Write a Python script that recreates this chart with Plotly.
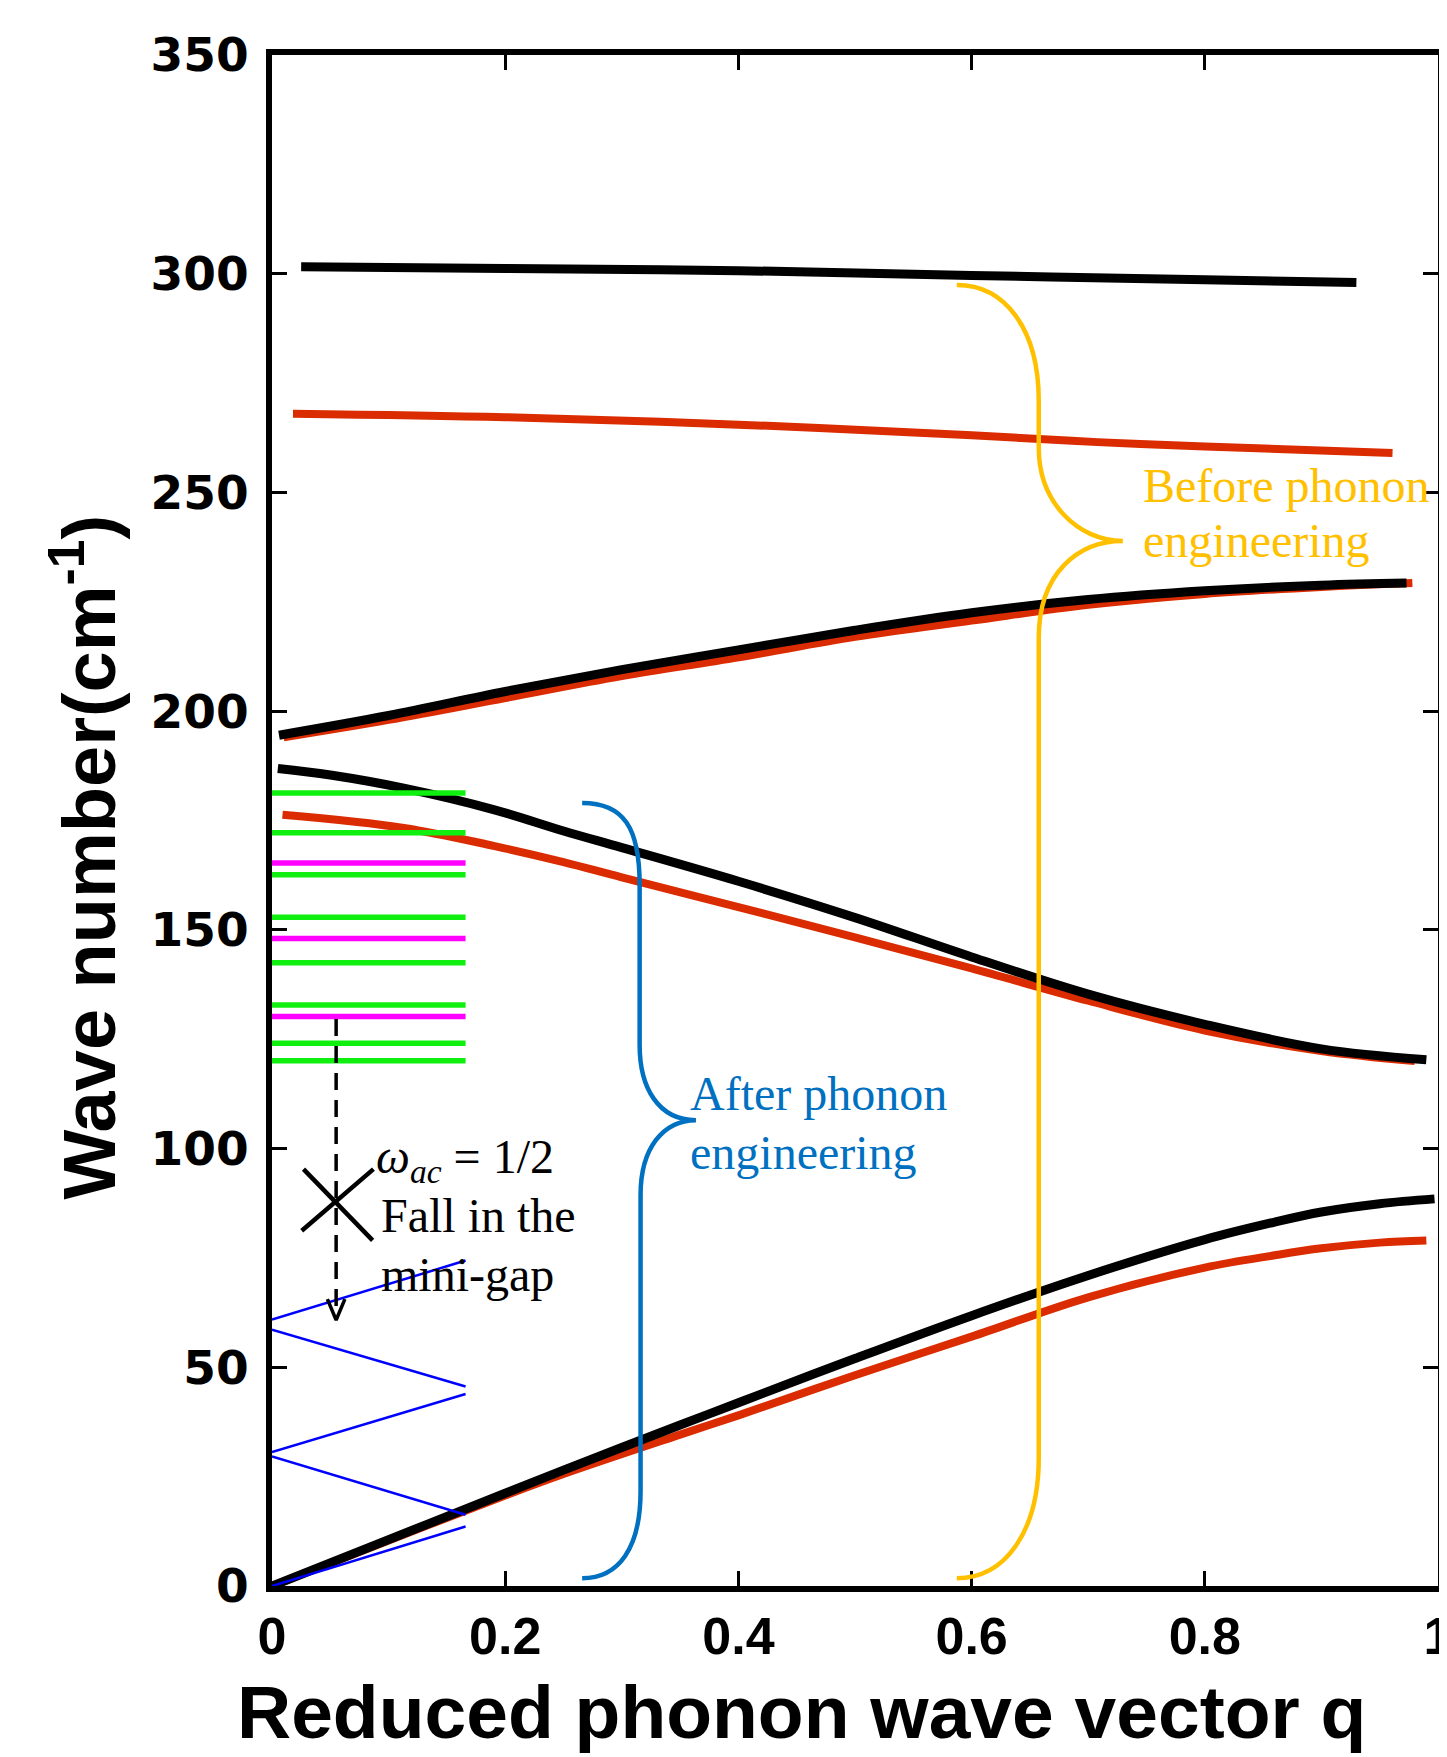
import plotly.graph_objects as go

# ---------------- data ----------------
# Before phonon engineering (black) and after (red) dispersion branches
Q_TOP_BLK = [0.025, 0.2, 0.4, 0.6, 0.8, 0.93]
W_TOP_BLK = [301.6, 301.2, 300.7, 299.6, 298.6, 298.0]
Q_TOP_RED = [0.018, 0.2, 0.4, 0.6, 0.708, 0.8, 0.961]
W_TOP_RED = [268.0, 267.2, 265.5, 263.1, 261.5, 260.5, 259.0]

Q_RISE_BLK = [0.006, 0.1, 0.2, 0.3, 0.4, 0.5, 0.6, 0.7, 0.8, 0.9, 0.973]
W_RISE_BLK = [194.5, 199.0, 204.5, 209.5, 214.0, 218.5, 222.5, 225.5, 227.5, 228.8, 229.3]
Q_RISE_RED = [0.01, 0.1, 0.2, 0.3, 0.4, 0.5, 0.6, 0.7, 0.8, 0.9, 0.978]
W_RISE_RED = [194.0, 198.0, 203.0, 208.0, 212.3, 217.0, 220.7, 224.3, 226.8, 228.4, 229.3]

Q_DESC_BLK = [0.005, 0.05, 0.113, 0.19, 0.25, 0.3, 0.4, 0.5, 0.6, 0.7, 0.8, 0.9, 0.99]
W_DESC_BLK = [186.9, 185.4, 182.4, 177.5, 172.6, 168.8, 161.1, 152.8, 143.8, 135.3, 128.4, 122.8, 120.3]
Q_DESC_RED = [0.009, 0.113, 0.19, 0.25, 0.3, 0.4, 0.5, 0.6, 0.7, 0.8, 0.9, 0.98]
W_DESC_RED = [176.3, 173.3, 169.2, 165.5, 162.0, 155.2, 148.3, 141.2, 133.8, 127.0, 122.3, 120.0]

Q_AC_BLK = [0.0, 0.1, 0.2, 0.25, 0.35, 0.4, 0.5, 0.6, 0.7, 0.8, 0.86, 0.9, 0.95, 0.997]
W_AC_BLK = [0.0, 10.6, 21.2, 26.5, 36.8, 41.9, 52.0, 61.8, 71.0, 79.2, 83.2, 85.5, 87.4, 88.5]
Q_AC_RED = [0.0, 0.1, 0.2, 0.25, 0.35, 0.4, 0.5, 0.6, 0.7, 0.8, 0.86, 0.9, 0.95, 0.99]
W_AC_RED = [0.0, 10.4, 20.7, 25.6, 34.6, 39.0, 48.2, 57.0, 66.0, 72.8, 75.6, 77.2, 78.5, 79.0]

# mini-band levels (q from 0 to Q_MINI)
Q_MINI = 0.166
GREEN_LEVELS = [181.3, 172.2, 162.6, 152.9, 142.5, 132.8, 124.1, 120.1]
MAGENTA_LEVELS = [165.3, 148.0, 130.2]
# folded acoustic lines (value at q=0, value at q=Q_MINI)
BLUE_START = [60.9, 58.6, 30.6, 29.6, 0.0]
BLUE_END = [74.4, 45.6, 43.9, 16.3, 13.6]

X_TICKS = [0, 0.2, 0.4, 0.6, 0.8, 1]
X_TICK_TEXT = ["0", "0.2", "0.4", "0.6", "0.8", "1"]
Y_TICKS = [0, 50, 100, 150, 200, 250, 300, 350]
Y_TICK_TEXT = ["0", "50", "100", "150", "200", "250", "300", "350"]

# ---------------- annotation geometry ----------------
ARROW_Q = 0.055
ARROW_TOP = 129.6
ARROW_TIP = 60.8
CROSS_Q = (0.0270, 0.0863)
CROSS_W = (95.3, 79.0)

RED = "#DA2C00"
BLK = "#000000"
GREEN = "#10F010"
MAGENTA = "#FF00FF"
BLUE = "#0000FF"
BRACE_BLUE = "#0070C0"
BRACE_ORANGE = "#FFC000"

fig = go.Figure()

def add_line(q, w, color, width, dash=None, shape="spline"):
    fig.add_trace(go.Scatter(x=q, y=w, mode="lines",
                             line=dict(color=color, width=width, dash=dash, shape=shape),
                             showlegend=False, hoverinfo="skip"))

for q, w in [(Q_TOP_RED, W_TOP_RED), (Q_RISE_RED, W_RISE_RED),
             (Q_DESC_RED, W_DESC_RED), (Q_AC_RED, W_AC_RED)]:
    add_line(q, w, RED, 8)
for q, w in [(Q_TOP_BLK, W_TOP_BLK), (Q_RISE_BLK, W_RISE_BLK),
             (Q_DESC_BLK, W_DESC_BLK), (Q_AC_BLK, W_AC_BLK)]:
    add_line(q, w, BLK, 9)

def hlines(levels):
    xs, ys = [], []
    for lv in levels:
        xs += [0, Q_MINI, None]
        ys += [lv, lv, None]
    return xs, ys

gx, gy = hlines(GREEN_LEVELS)
add_line(gx, gy, GREEN, 5.5, shape="linear")
mx, my = hlines(MAGENTA_LEVELS)
add_line(mx, my, MAGENTA, 5.5, shape="linear")

bx, by = [], []
for s, e in zip(BLUE_START, BLUE_END):
    bx += [0, Q_MINI, None]
    by += [s, e, None]
add_line(bx, by, BLUE, 2.5, shape="linear")

# dashed arrow
add_line([ARROW_Q, ARROW_Q], [ARROW_TOP, ARROW_TIP + 0.8], BLK, 3.5, dash="17px,10px", shape="linear")
add_line([ARROW_Q - 0.0075, ARROW_Q, ARROW_Q + 0.0075],
         [ARROW_TIP + 4.8, ARROW_TIP, ARROW_TIP + 4.8], BLK, 3.5, shape="linear")
# cross
add_line([CROSS_Q[0], CROSS_Q[1], None, CROSS_Q[0] - 0.0015, CROSS_Q[1] + 0.0007],
         [CROSS_W[0], CROSS_W[1], None, CROSS_W[1] + 2.2, CROSS_W[0]], BLK, 4.5, shape="linear")

# braces as shape paths (data coordinates)
blue_brace = ("M 0.266,179.0 C 0.3017,179.0 0.3153,173.3 0.3153,160.3 "
              "L 0.3153,123.7 C 0.3153,113.9 0.3314,106.5 0.3636,106.5 "
              "C 0.3356,106.5 0.3161,100.1 0.3161,89.4 "
              "L 0.3161,21.7 C 0.3161,8.7 0.2975,1.8 0.266,1.8")
orange_brace = ("M 0.5873,297.4 C 0.6280,297.4 0.6576,287.6 0.6576,270.9 "
                "L 0.6576,260.2 C 0.6576,247.6 0.6915,238.9 0.7297,238.9 "
                "C 0.6915,238.9 0.6576,231.6 0.6576,216.7 "
                "L 0.6576,29.3 C 0.6576,12.1 0.6280,1.8 0.5873,1.8")
fig.add_shape(type="path", path=blue_brace, xref="x", yref="y",
              line=dict(color=BRACE_BLUE, width=4.5))
fig.add_shape(type="path", path=orange_brace, xref="x", yref="y",
              line=dict(color=BRACE_ORANGE, width=4.5))

serif = "Liberation Serif, Times New Roman, serif"
def note(x, y, text, color="#000000", size=48):
    fig.add_annotation(x=x, y=y, xref="x", yref="y", text=text, showarrow=False,
                       xanchor="left", yanchor="middle",
                       font=dict(family=serif, size=size, color=color))

note(0.0875, 97.4, "<i>ω</i><sub><i>ac</i></sub> = 1/2")
note(0.0915, 84.6, "Fall in the")
note(0.0915, 71.2, "mini-gap")
note(0.357, 112.5, "After phonon", BRACE_BLUE)
note(0.357, 99.2, "engineering", BRACE_BLUE)
note(0.745, 251.6, "Before phonon", BRACE_ORANGE)
note(0.745, 239.0, "engineering", BRACE_ORANGE)

# axis titles
sans = "Liberation Sans, Arial, sans-serif"
fig.add_annotation(x=0.454, y=-0.082, xref="paper", yref="paper",
                   text="Reduced phonon wave vector q", showarrow=False,
                   xanchor="center", yanchor="middle",
                   font=dict(family=sans, size=75, color="#000000", weight="bold"))
fig.add_annotation(x=-0.161, y=0.476, xref="paper", yref="paper",
                   text="Wave number(cm<sup>-1</sup>)", showarrow=False, textangle=-90,
                   xanchor="center", yanchor="middle",
                   font=dict(family=sans, size=74, color="#000000", weight="bold"))

fig.update_xaxes(range=[0, 1], tickvals=X_TICKS, ticktext=X_TICK_TEXT,
                 showgrid=False, zeroline=False, showline=True, linecolor="#000000",
                 linewidth=6, mirror="ticks", ticks="inside", ticklen=15, tickwidth=3,
                 tickcolor="#000000", ticklabeloverflow="allow",
                 tickfont=dict(family=sans, size=52, color="#000000", weight="bold"))
fig.update_yaxes(range=[0, 350], tickvals=Y_TICKS, ticktext=Y_TICK_TEXT,
                 showgrid=False, zeroline=False, showline=True, linecolor="#000000",
                 linewidth=6, mirror="ticks", ticks="inside", ticklen=15, tickwidth=3,
                 tickcolor="#000000", ticklabelstandoff=8,
                 tickfont=dict(family="DejaVu Sans, sans-serif", size=47, color="#000000",
                               weight="bold"))

fig.update_layout(width=1447, height=1757, plot_bgcolor="white", paper_bgcolor="white",
                  margin=dict(l=264, r=3, t=47, b=179), showlegend=False)

fig.write_html("out.html")
